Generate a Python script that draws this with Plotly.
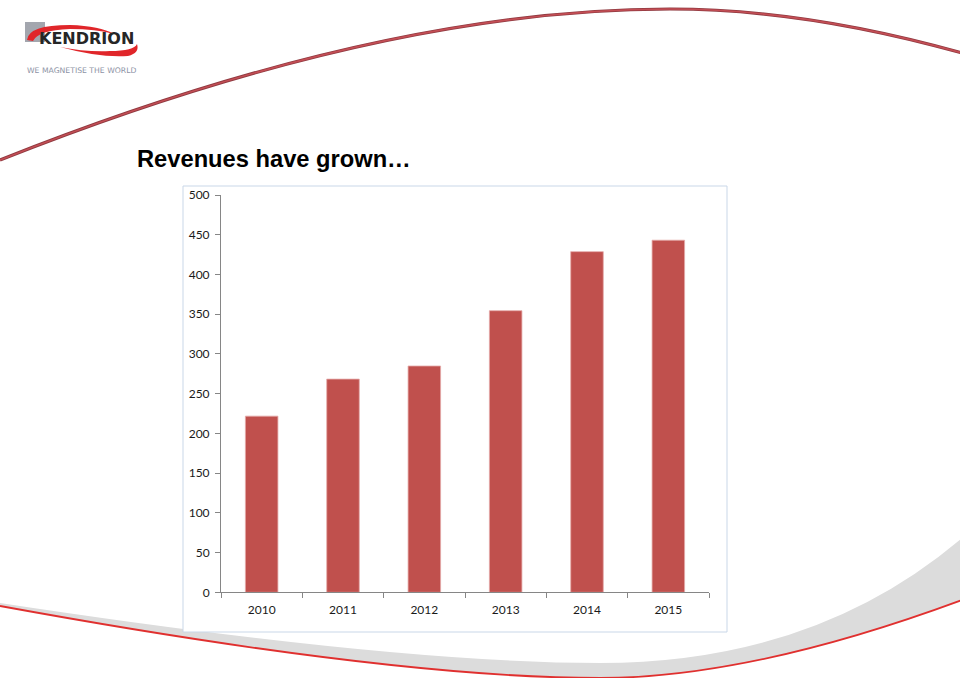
import plotly.graph_objects as go

# ---- data ----
years = ["2010", "2011", "2012", "2013", "2014", "2015"]
revenues = [221.7, 268.3, 284.8, 354.4, 428.7, 443.1]
y_ticks = [0, 50, 100, 150, 200, 250, 300, 350, 400, 450, 500]

W, H = 960, 678


def px(x, y):
    return f"{x / W:.5f},{1 - y / H:.5f}"


def path(cmds):
    out = []
    for c in cmds:
        if isinstance(c, str):
            out.append(c)
        else:
            out.append(px(*c))
    return " ".join(out)


fig = go.Figure()
fig.add_trace(go.Bar(
    x=years, y=revenues,
    marker=dict(color="#c0504d", line=dict(color="#e4a9a8", width=0.8)),
    width=0.4, hoverinfo="x+y",
))

shapes = []
# top arc
top_arc = path(["M", (0, 160), "Q", (380, 9), (670, 9), "Q", (805, 9), (962, 53)])
shapes.append(dict(type="path", xref="paper", yref="paper", path=top_arc,
                   line=dict(color="#8f3a40", width=3.2), layer="below"))
shapes.append(dict(type="path", xref="paper", yref="paper", path=top_arc,
                   line=dict(color="#c44e55", width=1.6), layer="below"))

# bottom grey swoosh
swoosh = path(["M", (0, 603), "Q", (394, 663), (600, 663), "Q", (815, 663), (962, 538),
               "L", (962, 600), "Q", (751, 678), (600, 678), "Q", (394, 678), (0, 606), "Z"])
shapes.append(dict(type="path", xref="paper", yref="paper", path=swoosh,
                   fillcolor="#dcdcdc", line=dict(width=0), layer="below"))
bottom_line = path(["M", (0, 606), "Q", (394, 678), (600, 678), "Q", (751, 678), (962, 600)])
shapes.append(dict(type="path", xref="paper", yref="paper", path=bottom_line,
                   line=dict(color="#e0302f", width=1.8), layer="below"))

# chart frame
shapes.append(dict(type="rect", xref="paper", yref="paper",
                   x0=183 / W, x1=727 / W, y0=1 - 632 / H, y1=1 - 186 / H,
                   fillcolor="white", line=dict(color="#c9d7e8", width=1), layer="below"))

# logo
shapes.append(dict(type="rect", xref="paper", yref="paper",
                   x0=25 / W, x1=45 / W, y0=1 - 42 / H, y1=1 - 22 / H,
                   fillcolor="#a3a6ae", line=dict(width=0), layer="below"))
top_cres = path(["M", (27, 40), "Q", (28, 25), (70, 25), "Q", (100, 26), (114, 34),
                 "Q", (96, 29), (70, 29), "Q", (38, 30), (33, 41), "Z"])
shapes.append(dict(type="path", xref="paper", yref="paper", path=top_cres,
                   fillcolor="#e0262a", line=dict(width=0), layer="below"))
bot_cres = path(["M", (60, 47), "Q", (100, 58), (128, 56), "Q", (140, 53), (137, 44),
                 "Q", (134, 51), (110, 51), "Q", (85, 52), (60, 47), "Z"])
shapes.append(dict(type="path", xref="paper", yref="paper", path=bot_cres,
                   fillcolor="#e0262a", line=dict(width=0), layer="below"))

annotations = [
    dict(text="KENDRION", x=37 / W, y=1 - 38.5 / H, xref="paper", yref="paper",
         xanchor="left", yanchor="middle", showarrow=False,
         font=dict(family="DejaVu Sans", size=16, color="#262626", weight="bold")),
    dict(text="WE MAGNETISE THE WORLD", x=25 / W, y=1 - 71 / H, xref="paper", yref="paper",
         xanchor="left", yanchor="middle", showarrow=False,
         font=dict(family="DejaVu Sans", size=7.7, color="#8d93a5")),
    dict(text="<b>Revenues have grown…</b>", x=135 / W, y=1 - 159 / H, xref="paper", yref="paper",
         xanchor="left", yanchor="middle", showarrow=False,
         font=dict(family="Liberation Sans", size=23.7, color="#000000")),
]

axis_font = dict(family="Lato", size=12, color="#1a1a1a")
fig.update_layout(
    width=W, height=H,
    margin=dict(l=0, r=0, t=0, b=0, pad=0, autoexpand=False),
    paper_bgcolor="white", plot_bgcolor="rgba(0,0,0,0)",
    showlegend=False,
    shapes=shapes, annotations=annotations,
    xaxis=dict(domain=[221 / W, 709 / W], type="category", range=[-0.5, 5.5],
               showline=True, linecolor="#868686", linewidth=1, automargin=False,
               ticks="outside", tickson="boundaries", ticklen=5, tickcolor="#868686",
               tickfont=axis_font, showgrid=False, fixedrange=True,
               ticklabelstandoff=6),
    yaxis=dict(domain=[1 - 592.3 / H, 1 - 195 / H], range=[0, 500], automargin=False,
               tickvals=y_ticks, ticktext=[str(v) for v in y_ticks],
               showline=True, linecolor="#868686", linewidth=1,
               ticks="outside", ticklen=5, tickcolor="#868686",
               tickfont=axis_font, showgrid=False, zeroline=False,
               ticklabelstandoff=3, fixedrange=True),
)

fig.write_html("out.html", config={"displayModeBar": False},
               post_script="document.body.style.margin='0';")
